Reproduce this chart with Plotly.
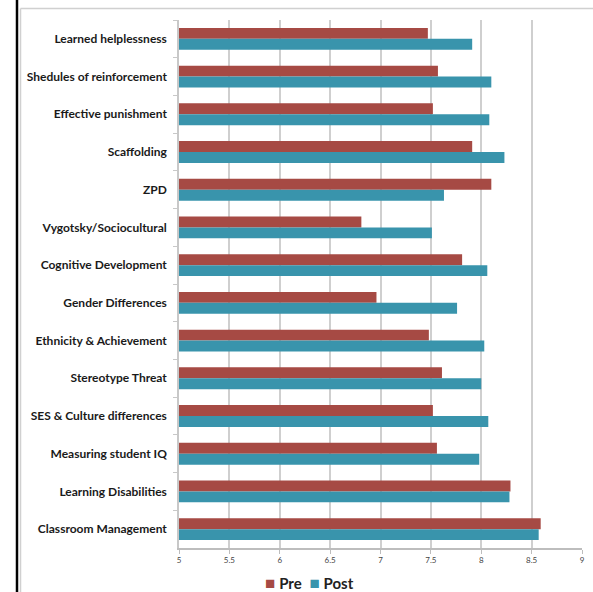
import plotly.graph_objects as go

categories = [
    "Learned helplessness",
    "Shedules of reinforcement",
    "Effective punishment",
    "Scaffolding",
    "ZPD",
    "Vygotsky/Sociocultural",
    "Cognitive Development",
    "Gender Differences",
    "Ethnicity & Achievement",
    "Stereotype Threat",
    "SES & Culture differences",
    "Measuring student IQ",
    "Learning Disabilities",
    "Classroom Management",
]
pre = [7.47, 7.57, 7.52, 7.91, 8.10, 6.81, 7.81, 6.96, 7.48, 7.61, 7.52, 7.56, 8.29, 8.59]
post = [7.91, 8.10, 8.08, 8.23, 7.63, 7.51, 8.06, 7.76, 8.03, 8.00, 8.07, 7.98, 8.28, 8.57]
x_ticks = [5, 5.5, 6, 6.5, 7, 7.5, 8, 8.5, 9]
x_tick_text = ["5", "5.5", "6", "6.5", "7", "7.5", "8", "8.5", "9"]
series_names = ["Pre", "Post"]

RED = "#A64A44"
TEAL = "#3994AC"
FONT = "Lato"

W, H = 593, 592
l, r, t, b = 179, 11, 20, 44
pw, ph = W - l - r, H - t - b


def px(xp):
    return (xp - l) / pw


def py(yp):
    return (H - b - yp) / ph


fig = go.Figure()
fig.add_trace(go.Bar(y=categories, x=pre, name=series_names[0], orientation="h",
                     marker=dict(color=RED, line=dict(width=0))))
fig.add_trace(go.Bar(y=categories, x=post, name=series_names[1], orientation="h",
                     marker=dict(color=TEAL, line=dict(width=0))))

legend_text = (
    f"<span style='color:{RED};font-size:17px'>■</span> <b>{series_names[0]}</b>"
    f"  <span style='color:{TEAL};font-size:17px'>■</span> <b>{series_names[1]}</b>"
)

fig.update_layout(
    width=W, height=H,
    margin=dict(l=l, r=r, t=t, b=b, autoexpand=False),
    paper_bgcolor="white", plot_bgcolor="white",
    barmode="group", bargap=0.42, bargroupgap=0,
    font=dict(family=FONT, color="#222222"),
    showlegend=False,
    xaxis=dict(range=[5, 9], tickmode="array", tickvals=x_ticks, ticktext=x_tick_text,
               showgrid=True, gridcolor="#CFCFCF", gridwidth=1.5,
               showline=True, linecolor="#BDBDBD", linewidth=1.5,
               ticks="outside", ticklen=4, tickcolor="#BDBDBD",
               tickfont=dict(family=FONT, size=8, color="#444444"),
               zeroline=False, fixedrange=True),
    yaxis=dict(autorange="reversed", type="category",
               showline=True, linecolor="#C8C8C8", linewidth=1.5,
               ticks="outside", ticklen=4, tickcolor="#C8C8C8", tickson="boundaries",
               ticklabelstandoff=8,
               tickfont=dict(family=FONT, size=12, color="#1a1a1a", weight="bold"),
               showgrid=False, fixedrange=True),
    annotations=[
        dict(text=legend_text, xref="paper", yref="paper", x=px(309), y=py(582),
             xanchor="center", yanchor="middle", showarrow=False,
             font=dict(family=FONT, size=15, color="#222222")),
    ],
    shapes=[
        dict(type="line", xref="paper", yref="paper", x0=px(17), x1=px(17), y0=py(0), y1=py(592),
             line=dict(color="black", width=2.5)),
        dict(type="line", xref="paper", yref="paper", x0=px(20.5), x1=px(20.5), y0=py(8.5), y1=py(592),
             line=dict(color="#D0D0D0", width=1.5)),
        dict(type="line", xref="paper", yref="paper", x0=px(20.5), x1=px(593), y0=py(8.5), y1=py(8.5),
             line=dict(color="#D0D0D0", width=1.5)),
    ],
)

fig.write_html("out.html")
